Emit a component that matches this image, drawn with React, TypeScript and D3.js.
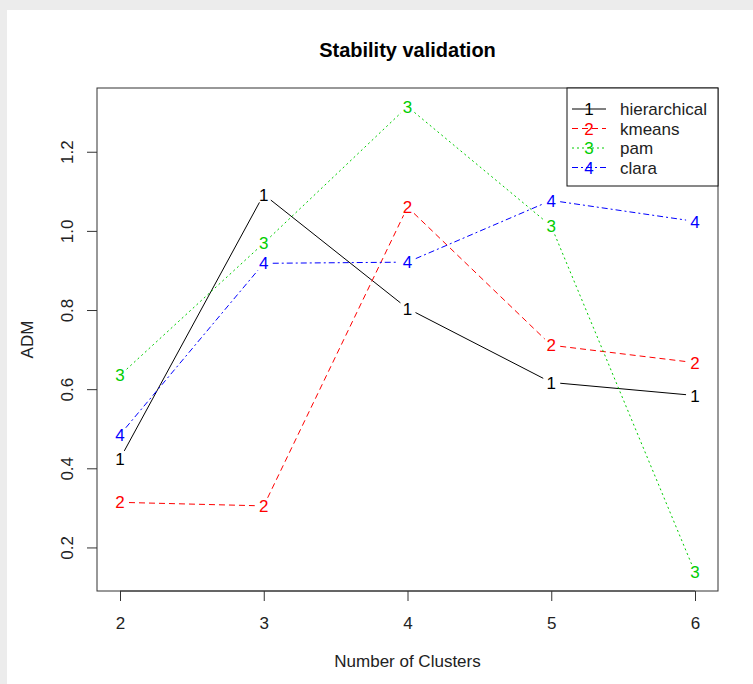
import { useEffect, useRef } from 'react'
import * as d3 from 'd3'

// Number of clusters on the x axis
const clusters = [2, 3, 4, 5, 6]

// ADM values
const hierarchical = [0.424, 1.092, 0.804, 0.617, 0.584]
const kmeans = [0.314, 0.305, 1.06, 0.711, 0.667]
const pam = [0.635, 0.969, 1.314, 1.012, 0.137]
const clara = [0.485, 0.918, 0.921, 1.077, 1.024]

const yTicks = [0.2, 0.4, 0.6, 0.8, 1.0, 1.2]

const seriesNames = ['hierarchical', 'kmeans', 'pam', 'clara']
const seriesValues = [hierarchical, kmeans, pam, clara]
const seriesColors = ['#000000', '#ff0000', '#00cd00', '#0000ff']
const seriesDash = ['none', '6,4', '2,3', '6,3,2,3']

export default function App() {
  const svgRef = useRef<SVGSVGElement>(null)

  useEffect(() => {
    if (!svgRef.current) return
    const svg = d3.select(svgRef.current)
    svg.selectAll('*').remove()

    const width = 753
    const height = 684
    const font = 'Liberation Sans, Arial, sans-serif'
    const box = { left: 97, right: 718, top: 88, bottom: 591 }

    // page background with white plot card
    svg.append('rect').attr('width', width).attr('height', height).attr('fill', '#ececec')
    svg.append('rect').attr('x', 7).attr('y', 10).attr('width', width - 7).attr('height', height - 10).attr('fill', '#ffffff')

    // R-style 4% padding on both axes
    const xMin = d3.min(clusters)!
    const xMax = d3.max(clusters)!
    const xPad = (xMax - xMin) * 0.04
    const allVals = seriesValues.flat()
    const yMin = d3.min(allVals)!
    const yMax = d3.max(allVals)!
    const yPad = (yMax - yMin) * 0.04

    const x = d3.scaleLinear().domain([xMin - xPad, xMax + xPad]).range([box.left, box.right])
    const y = d3.scaleLinear().domain([yMin - yPad, yMax + yPad]).range([box.bottom, box.top])

    // title
    svg.append('text')
      .attr('x', (box.left + box.right) / 2)
      .attr('y', 57)
      .attr('text-anchor', 'middle')
      .style('font-family', font)
      .style('font-size', '20px')
      .style('font-weight', 'bold')
      .style('fill', '#000')
      .text('Stability validation')

    // axes
    const xAxis = svg.append('g')
      .attr('transform', `translate(0,${box.bottom})`)
      .call(d3.axisBottom(x).tickValues(clusters).tickSize(10).tickPadding(16).tickFormat(d3.format('d')))
    xAxis.select('.domain').attr('d', `M${x(xMin)},0H${x(xMax)}`)

    const yAxis = svg.append('g')
      .attr('transform', `translate(${box.left},0)`)
      .call(d3.axisLeft(y).tickValues(yTicks).tickSize(10).tickFormat(d3.format('.1f')))
    yAxis.select('.domain').remove()
    yAxis.selectAll('.tick text')
      .attr('x', 0)
      .attr('dy', 0)
      .attr('text-anchor', 'middle')
      .attr('transform', 'translate(-24,0) rotate(-90)')

    svg.selectAll('.tick line').attr('stroke', '#333')
    svg.selectAll('.domain').attr('stroke', '#333')
    svg.selectAll('.tick text')
      .style('font-family', font)
      .style('font-size', '17px')
      .style('fill', '#222')

    // plot box
    svg.append('rect')
      .attr('x', box.left).attr('y', box.top)
      .attr('width', box.right - box.left).attr('height', box.bottom - box.top)
      .attr('fill', 'none').attr('stroke', '#333').attr('stroke-width', 1)

    // axis titles
    svg.append('text')
      .attr('x', (box.left + box.right) / 2)
      .attr('y', 667)
      .attr('text-anchor', 'middle')
      .style('font-family', font).style('font-size', '17px').style('fill', '#222')
      .text('Number of Clusters')

    svg.append('text')
      .attr('transform', `translate(33,${(box.top + box.bottom) / 2}) rotate(-90)`)
      .attr('text-anchor', 'middle')
      .style('font-family', font).style('font-size', '17px').style('fill', '#222')
      .text('ADM')

    // series: type = "b" (lines broken around the point characters)
    const gap = 9
    seriesValues.forEach((vals, si) => {
      const pts = vals.map((v, i) => [x(clusters[i]), y(v)] as [number, number])
      const g = svg.append('g')
      for (let i = 0; i < pts.length - 1; i++) {
        const [x0, y0] = pts[i]
        const [x1, y1] = pts[i + 1]
        const len = Math.hypot(x1 - x0, y1 - y0)
        if (len <= gap * 2) continue
        const ux = (x1 - x0) / len
        const uy = (y1 - y0) / len
        g.append('line')
          .attr('x1', x0 + ux * gap).attr('y1', y0 + uy * gap)
          .attr('x2', x1 - ux * gap).attr('y2', y1 - uy * gap)
          .attr('stroke', seriesColors[si])
          .attr('stroke-width', 1)
          .attr('stroke-dasharray', seriesDash[si])
      }
      g.selectAll('text')
        .data(pts)
        .enter().append('text')
        .attr('x', d => d[0])
        .attr('y', d => d[1])
        .attr('dy', '0.36em')
        .attr('text-anchor', 'middle')
        .style('font-family', font)
        .style('font-size', '17px')
        .style('fill', seriesColors[si])
        .text(String(si + 1))
    })

    // legend
    const lg = { left: 567, top: box.top, width: box.right - 567, height: 98 }
    svg.append('rect')
      .attr('x', lg.left).attr('y', lg.top)
      .attr('width', lg.width).attr('height', lg.height)
      .attr('fill', '#fff').attr('stroke', '#111').attr('stroke-width', 1)

    const items = svg.append('g').attr('transform', `translate(${lg.left},${lg.top + 21})`)
    seriesNames.forEach((name, i) => {
      const row = items.append('g').attr('transform', `translate(0,${i * 19.5})`)
      row.append('line')
        .attr('x1', 5).attr('x2', 39).attr('y1', 0).attr('y2', 0)
        .attr('stroke', seriesColors[i])
        .attr('stroke-dasharray', seriesDash[i])
      row.append('text')
        .attr('x', 22).attr('y', 0).attr('dy', '0.36em')
        .attr('text-anchor', 'middle')
        .style('font-family', font).style('font-size', '17px')
        .style('fill', seriesColors[i])
        .text(String(i + 1))
      row.append('text')
        .attr('x', 53).attr('y', 0).attr('dy', '0.36em')
        .style('font-family', font).style('font-size', '17px')
        .style('fill', '#222')
        .text(name)
    })
  }, [])

  return (
    <svg
      ref={svgRef}
      width={753}
      height={684}
      style={{ position: 'absolute', left: 0, top: 0, display: 'block' }}
    />
  )
}
